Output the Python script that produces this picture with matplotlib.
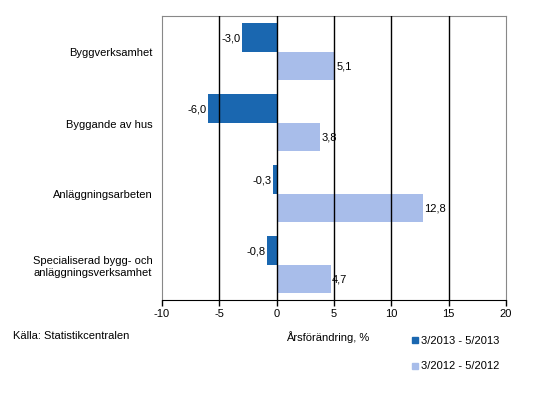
import matplotlib.pyplot as plt
import numpy as np
from matplotlib.patches import Rectangle

plt.rcParams['font.family'] = ['Liberation Sans', 'DejaVu Sans']

categories = ['Byggverksamhet', 'Byggande av hus', 'Anläggningsarbeten',
              'Specialiserad bygg- och\nanläggningsverksamhet']
series_names = ['3/2013 - 5/2013', '3/2012 - 5/2012']
vals_2013 = [-3.0, -6.0, -0.3, -0.8]
vals_2012 = [5.1, 3.8, 12.8, 4.7]
xticks = [-10, -5, 0, 5, 10, 15, 20]

dark = '#1A67B0'
light = '#A8BDEA'

fig = plt.figure(figsize=(5.38, 4.02), dpi=100)
ax = fig.add_axes([162/538, 1 - 301/402, 344/538, 284/402])

y = np.arange(len(categories))
h = 0.4
ax.barh(y - h/2, vals_2013, height=h, color=dark, zorder=2, label=series_names[0])
ax.barh(y + h/2, vals_2012, height=h, color=light, zorder=2, label=series_names[1])

def fmt(v):
    return ('%.1f' % v).replace('.', ',')

for yi, v in zip(y, vals_2013):
    ax.text(v - 0.15, yi - h/2, fmt(v), ha='right', va='center', fontsize=8)
for yi, v in zip(y, vals_2012):
    ax.text(v + 0.1, yi + h/2, fmt(v), ha='left', va='center', fontsize=8)

ax.set_xlim(-10, 20)
ax.set_ylim(3.5, -0.5)
ax.set_xticks(xticks)
ax.set_xticklabels([str(t) for t in xticks], fontsize=8)
ax.set_yticks(y)
ax.set_yticklabels(categories, fontsize=8, ha='right', linespacing=1.2)
ax.tick_params(axis='y', length=0, pad=7)
ax.tick_params(axis='x', direction='out', length=4, width=1, color='black', pad=2)

# black vertical gridlines
for t in xticks[1:-1]:
    ax.axvline(t, color='black', lw=1, zorder=3)

for s in ['left', 'right', 'top']:
    ax.spines[s].set_color('#888888')
ax.spines['bottom'].set_color('black')

fig.text(13/538, 1 - 336/402, 'Källa: Statistikcentralen', fontsize=8, va='center')
fig.text(286/538, 1 - 337/402, 'Årsförändring, %', fontsize=8, va='center')

# legend drawn by hand, stacked under the axis title
for i, (name, c) in enumerate(zip(series_names, [dark, light])):
    yy = 341 + i * 25.5
    fig.patches.append(Rectangle((412/538, 1 - (yy + 3)/402), 6/538, 6/402,
                                 color=c, transform=fig.transFigure, figure=fig))
    fig.text(421/538, 1 - yy/402, name, fontsize=8, va='center')

fig.savefig('out.png', dpi=100)
